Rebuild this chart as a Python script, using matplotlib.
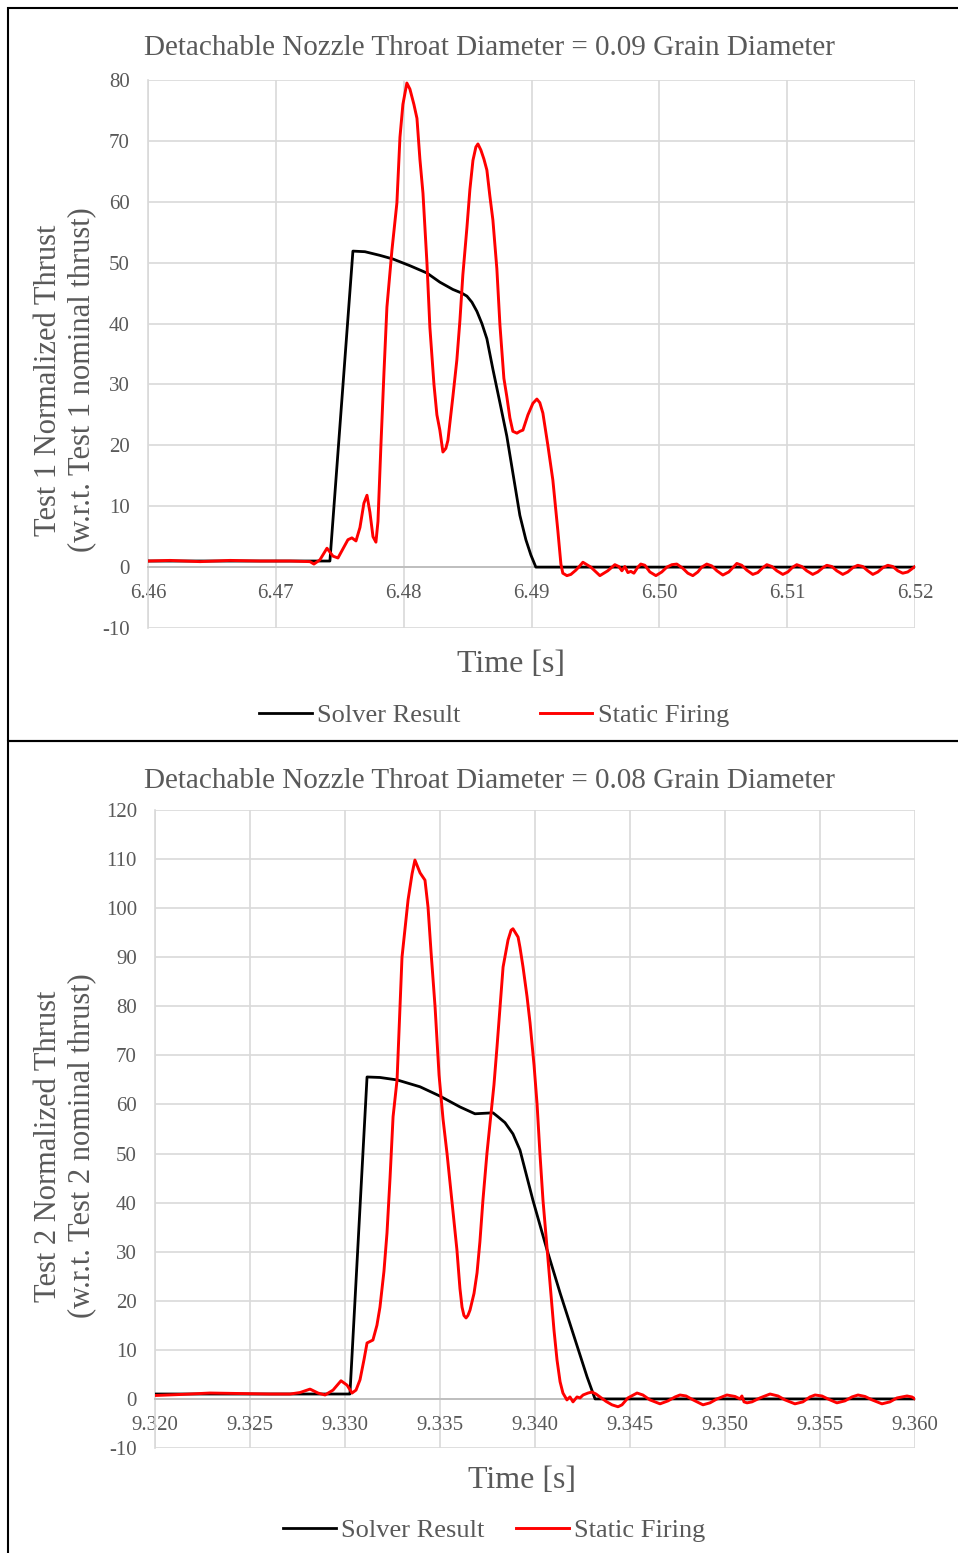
import numpy as np
import matplotlib
matplotlib.use("Agg")
import matplotlib.pyplot as plt
from matplotlib.patches import Rectangle
from matplotlib.lines import Line2D

plt.rcParams['font.family'] = ['Liberation Serif', 'DejaVu Serif']
plt.rcParams['axes.unicode_minus'] = False

# ---- test 1 (top panel) ----
t1_solver = [6.46000, 6.47423, 6.47603, 6.47697, 6.47814, 6.47916, 6.48049, 6.48182,
             6.48283, 6.48385, 6.48455, 6.48495, 6.48534, 6.48573, 6.48612, 6.48651,
             6.48698, 6.48753, 6.48807, 6.48854, 6.48909, 6.48956, 6.48995, 6.49034, 6.52000]
f1_solver = [1.0, 1.0, 51.9, 51.8, 51.2, 50.6, 49.5, 48.3,
             46.8, 45.6, 45.0, 44.5, 43.5, 42.0, 40.0, 37.5,
             32.5, 27.0, 21.5, 15.5, 8.5, 4.5, 2.0, 0.0, 0.0]

t1_firing = [6.46000, 6.46172, 6.46407, 6.46641, 6.46876, 6.47110, 6.47267, 6.47298,
             6.47345, 6.47400, 6.47447, 6.47486, 6.47525, 6.47564, 6.47595, 6.47627,
             6.47658, 6.47689, 6.47713, 6.47736, 6.47760, 6.47783, 6.47799, 6.47822,
             6.47846, 6.47869, 6.47908, 6.47947, 6.47971, 6.47994, 6.48025, 6.48049,
             6.48080, 6.48104, 6.48127, 6.48151, 6.48182, 6.48205, 6.48237, 6.48260,
             6.48283, 6.48307, 6.48330, 6.48346, 6.48369, 6.48385, 6.48416, 6.48440,
             6.48463, 6.48495, 6.48518, 6.48542, 6.48565, 6.48581, 6.48604, 6.48628,
             6.48651, 6.48674, 6.48698, 6.48729, 6.48753, 6.48784, 6.48807, 6.48831,
             6.48854, 6.48886, 6.48909, 6.48933, 6.48972, 6.49011, 6.49042, 6.49065,
             6.49089, 6.49128, 6.49167, 6.49206, 6.49230, 6.49245, 6.49277, 6.49308,
             6.49347, 6.49378, 6.49402, 6.49464, 6.49535, 6.49597, 6.49652, 6.49683,
             6.49707, 6.49730, 6.49754, 6.49777, 6.49801, 6.49832, 6.49855, 6.49887,
             6.49926, 6.49973, 6.50019, 6.50059, 6.50098, 6.50137, 6.50184, 6.50223,
             6.50262, 6.50301, 6.50332, 6.50371, 6.50410, 6.50450, 6.50497, 6.50543,
             6.50575, 6.50606, 6.50645, 6.50684, 6.50731, 6.50770, 6.50809, 6.50841,
             6.50880, 6.50919, 6.50966, 6.51005, 6.51044, 6.51075, 6.51114, 6.51153,
             6.51200, 6.51239, 6.51279, 6.51310, 6.51349, 6.51388, 6.51435, 6.51474,
             6.51513, 6.51552, 6.51591, 6.51630, 6.51670, 6.51709, 6.51748, 6.51787,
             6.51826, 6.51865, 6.51904, 6.51943, 6.51974, 6.52000]
f1_firing = [1.0, 1.1, 0.9, 1.1, 1.0, 1.0, 0.9, 0.5,
             1.2, 3.1, 1.8, 1.5, 3.0, 4.5, 4.8, 4.3,
             6.5, 10.5, 11.8, 9.0, 5.0, 4.1, 7.5, 20.0,
             32.0, 42.7, 52.0, 59.8, 70.6, 76.0, 79.5, 78.5,
             76.0, 73.7, 67.0, 61.4, 50.0, 39.4, 30.0, 25.0,
             22.5, 18.9, 19.5, 20.8, 25.0, 28.0, 34.0, 40.5,
             48.0, 55.8, 62.0, 66.8, 69.0, 69.5, 68.5, 67.0,
             65.2, 61.0, 57.0, 49.0, 39.8, 31.0, 28.0, 24.5,
             22.3, 22.0, 22.3, 22.5, 25.0, 26.9, 27.6, 27.0,
             25.3, 20.0, 14.3, 6.0, 0.5, -1.0, -1.4, -1.2,
             -0.5, 0.2, 0.8, 0.0, -1.4, -0.6, 0.4, 0.1,
             -0.6, 0.1, -0.9, -0.7, -1.0, 0.0, 0.5, 0.3,
             -0.8, -1.4, -0.8, 0.0, 0.4, 0.5, -0.2, -1.0,
             -1.4, -0.8, 0.0, 0.5, 0.2, -0.6, -1.3, -0.8,
             -0.1, 0.6, 0.3, -0.5, -1.2, -0.9, -0.1, 0.4,
             0.1, -0.6, -1.2, -0.8, 0.0, 0.4, 0.1, -0.6,
             -1.2, -0.8, -0.1, 0.3, 0.1, -0.6, -1.2, -0.8,
             -0.1, 0.3, 0.1, -0.6, -1.2, -0.8, -0.1, 0.3,
             0.1, -0.6, -1.0, -0.8, -0.3, 0.1]

# ---- test 2 (bottom panel) ----
t2_solver = [9.32000, 9.33026, 9.33116, 9.33184, 9.33274, 9.33395, 9.33500, 9.33605,
             9.33684, 9.33779, 9.33805, 9.33842, 9.33884, 9.33921, 9.33989, 9.34063,
             9.34132, 9.34200, 9.34274, 9.34316, 9.36000]
f2_solver = [1.0, 1.0, 65.6, 65.5, 65.0, 63.6, 61.7, 59.5,
             58.1, 58.3, 57.5, 56.3, 54.0, 50.7, 40.5, 30.4,
             21.6, 13.4, 4.5, 0.0, 0.0]

t2_firing = [9.32000, 9.32132, 9.32289, 9.32447, 9.32605, 9.32711, 9.32763, 9.32816,
             9.32858, 9.32895, 9.32937, 9.32979, 9.33011, 9.33037, 9.33058, 9.33079,
             9.33100, 9.33116, 9.33147, 9.33168, 9.33184, 9.33205, 9.33221, 9.33237,
             9.33253, 9.33274, 9.33300, 9.33332, 9.33353, 9.33368, 9.33395, 9.33421,
             9.33437, 9.33453, 9.33474, 9.33495, 9.33516, 9.33537, 9.33553, 9.33574,
             9.33589, 9.33605, 9.33616, 9.33626, 9.33637, 9.33647, 9.33658, 9.33679,
             9.33695, 9.33710, 9.33726, 9.33747, 9.33763, 9.33784, 9.33800, 9.33816,
             9.33832, 9.33858, 9.33874, 9.33884, 9.33911, 9.33921, 9.33937, 9.33958,
             9.33974, 9.33995, 9.34011, 9.34026, 9.34042, 9.34063, 9.34079, 9.34100,
             9.34116, 9.34132, 9.34147, 9.34168, 9.34184, 9.34200, 9.34221, 9.34237,
             9.34253, 9.34279, 9.34300, 9.34321, 9.34342, 9.34374, 9.34405, 9.34437,
             9.34458, 9.34489, 9.34537, 9.34568, 9.34605, 9.34658, 9.34700, 9.34737,
             9.34763, 9.34795, 9.34832, 9.34884, 9.34921, 9.34958, 9.35010, 9.35053,
             9.35079, 9.35089, 9.35100, 9.35116, 9.35142, 9.35184, 9.35237, 9.35279,
             9.35316, 9.35368, 9.35410, 9.35447, 9.35474, 9.35510, 9.35553, 9.35589,
             9.35631, 9.35668, 9.35700, 9.35737, 9.35774, 9.35826, 9.35868, 9.35905,
             9.35958, 9.35984, 9.36000]
f2_firing = [0.7, 0.9, 1.2, 1.1, 1.0, 1.0, 1.3, 2.0,
             1.2, 0.8, 1.8, 3.7, 2.8, 1.2, 1.8, 3.9,
             8.0, 11.4, 12.0, 15.0, 18.7, 26.0, 33.8, 45.0,
             57.5, 65.0, 90.0, 101.7, 107.0, 109.8, 107.2, 105.7,
             100.2, 91.0, 79.9, 66.0, 57.0, 50.0, 44.0, 36.0,
             30.4, 22.5, 18.7, 17.0, 16.5, 17.0, 18.1, 21.5,
             25.7, 32.0, 40.5, 50.0, 56.0, 64.0, 71.7, 80.0,
             88.0, 93.5, 95.5, 95.8, 94.1, 92.0, 88.0, 82.0,
             76.6, 68.0, 60.0, 50.0, 40.5, 31.0, 23.6, 14.0,
             7.9, 3.5, 1.2, -0.2, 0.4, -0.6, 0.4, 0.2,
             0.8, 1.2, 1.4, 1.0, 0.4, -0.5, -1.2, -1.6,
             -1.2, 0.2, 1.2, 0.8, -0.2, -1.0, -0.4, 0.4,
             0.8, 0.6, -0.2, -1.2, -0.8, 0.0, 0.8, 0.5,
             0.0, 0.6, -0.6, -0.8, -0.6, 0.2, 1.0, 0.6,
             -0.2, -1.0, -0.6, 0.4, 0.8, 0.6, -0.2, -0.8,
             -0.4, 0.4, 0.8, 0.5, -0.2, -1.0, -0.6, 0.2,
             0.6, 0.4, 0.0]

titles = ["Detachable Nozzle Throat Diameter = 0.09 Grain Diameter",
          "Detachable Nozzle Throat Diameter = 0.08 Grain Diameter"]
ylabels = ["Test 1 Normalized Thrust\n(w.r.t. Test 1 nominal thrust)",
           "Test 2 Normalized Thrust\n(w.r.t. Test 2 nominal thrust)"]
xticks1 = [6.46, 6.47, 6.48, 6.49, 6.50, 6.51, 6.52]
xticks2 = [9.320, 9.325, 9.330, 9.335, 9.340, 9.345, 9.350, 9.355, 9.360]
yticks1 = list(range(-10, 81, 10))
yticks2 = list(range(-10, 121, 10))

W, H = 958, 1553
fig = plt.figure(figsize=(W / 100, H / 100), dpi=100)
txt = '#595959'
grid = '#d9d9d9'


def fx(px):
    return px / W


def fy(py):
    return 1 - py / H


def panel(rect, t_s, f_s, t_f, f_f, xt, yt, fmt):
    ax = fig.add_axes(rect)
    ax.plot(t_s, f_s, color='black', lw=2.0, zorder=3)
    ax.plot(t_f, f_f, color='#ff0000', lw=2.1, zorder=4)
    ax.set_xlim(xt[0], xt[-1])
    ax.set_ylim(yt[0], yt[-1])
    ax.set_xticks(xt)
    ax.set_xticklabels([fmt % v for v in xt])
    ax.set_yticks(yt)
    ax.grid(True, color=grid, lw=1.2)
    ax.set_axisbelow(True)
    for s in ['top', 'right']:
        ax.spines[s].set_visible(False)
    ax.spines['left'].set_color(grid)
    ax.spines['left'].set_linewidth(1.2)
    ax.spines['bottom'].set_position(('data', 0))
    ax.spines['bottom'].set_color('#bfbfbf')
    ax.spines['bottom'].set_linewidth(1.4)
    ax.tick_params(length=0, labelsize=15, labelcolor=txt)
    ax.tick_params(axis='x', pad=12.5)
    ax.tick_params(axis='y', pad=13)
    return ax


# top panel
panel([fx(148), fy(628), 767 / W, 548 / H], t1_solver, f1_solver, t1_firing, f1_firing,
      xticks1, yticks1, '%.2f')
# bottom panel
panel([fx(155), fy(1448), 760 / W, 638 / H], t2_solver, f2_solver, t2_firing, f2_firing,
      xticks2, yticks2, '%.3f')

# texts
fig.text(fx(489), fy(48), titles[0], ha='center', va='center', fontsize=21, color=txt)
fig.text(fx(489), fy(781), titles[1], ha='center', va='center', fontsize=21, color=txt)
fig.text(fx(511), fy(665), 'Time [s]', ha='center', va='center', fontsize=23, color=txt)
fig.text(fx(522), fy(1480), 'Time [s]', ha='center', va='center', fontsize=23, color=txt)
fig.text(fx(65), fy(380), ylabels[0], ha='center', va='center', rotation=90,
         fontsize=22, color=txt, multialignment='center', linespacing=1.2)
fig.text(fx(65), fy(1146), ylabels[1], ha='center', va='center', rotation=90,
         fontsize=22, color=txt, multialignment='center', linespacing=1.2)

handles = [Line2D([], [], color='black', lw=2.0), Line2D([], [], color='#ff0000', lw=2.1)]
names = ['Solver Result', 'Static Firing']
leg1 = fig.legend(handles, names, loc='center', bbox_to_anchor=(fx(494), fy(715)), ncol=2,
                  frameon=False, fontsize=19, handlelength=2.0, handletextpad=0.2,
                  columnspacing=3.0, labelcolor=txt)
leg2 = fig.legend(handles, names, loc='center', bbox_to_anchor=(fx(494), fy(1530)), ncol=2,
                  frameon=False, fontsize=19, handlelength=2.0, handletextpad=0.2,
                  columnspacing=1.2, labelcolor=txt)

# panel borders
fig.add_artist(Rectangle((fx(8), fy(741)), 1.0, (741 - 8) / H, transform=fig.transFigure,
                         fill=False, edgecolor='black', lw=1.5))
fig.add_artist(Rectangle((fx(8), fy(1560)), 1.0, (1560 - 741) / H, transform=fig.transFigure,
                         fill=False, edgecolor='black', lw=1.5))

fig.savefig('out.png', dpi=100)
